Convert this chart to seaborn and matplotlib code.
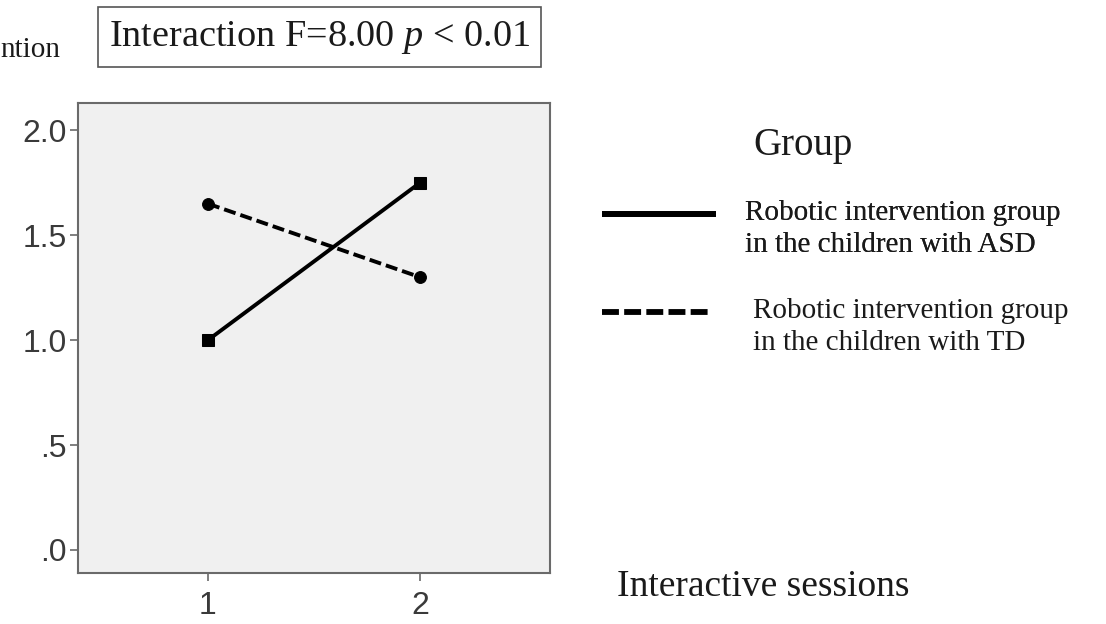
import matplotlib
matplotlib.use("Agg")
import matplotlib.pyplot as plt
from matplotlib.lines import Line2D
from matplotlib.legend_handler import HandlerLine2D
import seaborn as sns
import pandas as pd

sessions = [1, 2]
asd_values = [1.00, 1.75]
td_values = [1.65, 1.30]
group_labels = ["Robotic intervention group\nin the children with ASD",
                "Robotic intervention group\nin the children with TD"]
yticks = [0.0, 0.5, 1.0, 1.5, 2.0]
ytick_labels = [".0", ".5", "1.0", "1.5", "2.0"]
xtick_labels = ["1", "2"]

df = pd.DataFrame({
    "session": sessions * 2,
    "value": asd_values + td_values,
    "group": [group_labels[0]] * 2 + [group_labels[1]] * 2,
})

sns.set_theme(style="white")
plt.rcParams["font.family"] = ["Liberation Sans", "DejaVu Sans"]
plt.rcParams["mathtext.fontset"] = "custom"
plt.rcParams["mathtext.it"] = "Liberation Serif:italic"
plt.rcParams["mathtext.rm"] = "Liberation Serif"

fig = plt.figure(figsize=(11.06, 6.24), dpi=100)
ax = fig.add_axes([78 / 1106, 1 - 573 / 624, (550 - 78) / 1106, (573 - 103) / 624])
ax.set_facecolor("#f0f0f0")

sns.lineplot(data=df, x="session", y="value", style="group",
             style_order=group_labels,
             dashes={group_labels[0]: "", group_labels[1]: (3.1, 1.3)},
             markers={group_labels[0]: "s", group_labels[1]: "o"},
             markersize=8.5, color="black", linewidth=2.8, legend=False, ax=ax,
             markeredgecolor="black")

ax.set_xlim(0.387, 2.613)
ax.set_ylim(-0.11, 2.13)
ax.set_xticks(sessions)
ax.set_xticklabels(xtick_labels)
ax.set_yticks(yticks)
ax.set_yticklabels(ytick_labels)
ax.set_xlabel("")
ax.set_ylabel("")
for s in ax.spines.values():
    s.set_color("#6a6a6a")
    s.set_linewidth(1.5)
ax.tick_params(axis="both", which="both", direction="out", length=6, width=1.2,
               color="#6a6a6a", labelsize=23, labelcolor="#3a3a3a",
               left=True, bottom=True, pad=2)
ax.tick_params(axis="x", pad=7)

serif = ["Liberation Serif", "DejaVu Serif"]
tc = "#1a1a1a"

# title box
fig.text(319.5 / 1106, 1 - 37 / 624, r"Interaction F=8.00 $\it{p}$ < 0.01",
         family=serif, fontsize=27.5, ha="center", va="center", color=tc,
         bbox=dict(boxstyle="square,pad=0.3", fc="white", ec="#555555", lw=1.2))
fig.text(0.0, 1 - 50 / 624, "ntion", family=serif, fontsize=21, ha="left",
         va="center", color=tc)


class ShiftedLine(HandlerLine2D):
    def __init__(self, shift, **kw):
        super().__init__(**kw)
        self.shift = shift

    def create_artists(self, legend, orig_handle, xdescent, ydescent, width,
                       height, fontsize, trans):
        arts = super().create_artists(legend, orig_handle, xdescent, ydescent,
                                      width, height, fontsize, trans)
        for a in arts:
            a.set_ydata([y + self.shift for y in a.get_ydata()])
        return arts


# legend
fig.text(753 / 1106, 1 - 145 / 624, "Group", family=serif, fontsize=28,
         ha="left", va="center", color=tc)
h_solid = Line2D([], [], color="black", lw=4.2, ls="-", solid_capstyle="butt")
h_dash = Line2D([], [], color="black", lw=4.2, ls=(0, (2.9, 0.9)),
                dash_capstyle="butt")
fs = 21
px = fs * 100 / 72
leg1 = fig.legend([h_solid], [group_labels[0]], loc="upper left",
                  bbox_to_anchor=(602 / 1106, 1 - 200 / 624), frameon=False,
                  prop=dict(family=serif, size=fs), handlelength=114 / px,
                  handletextpad=29 / px, borderpad=0, borderaxespad=0,
                  labelcolor=tc, handler_map={h_solid: ShiftedLine(11)})
for t in leg1.get_texts():
    t.set_linespacing(1.3)
fig.add_artist(leg1)
leg2 = fig.legend([h_dash], [group_labels[1]], loc="upper left",
                  bbox_to_anchor=(602 / 1106, 1 - 298 / 624), frameon=False,
                  prop=dict(family=serif, size=fs), handlelength=110 / px,
                  handletextpad=41 / px, borderpad=0, borderaxespad=0,
                  labelcolor=tc, handler_map={h_dash: ShiftedLine(11)})
for t in leg2.get_texts():
    t.set_linespacing(1.3)

fig.text(617 / 1106, 1 - 587 / 624, "Interactive sessions", family=serif,
         fontsize=27, ha="left", va="center", color=tc)

fig.savefig("out.png", dpi=100, facecolor="white")
